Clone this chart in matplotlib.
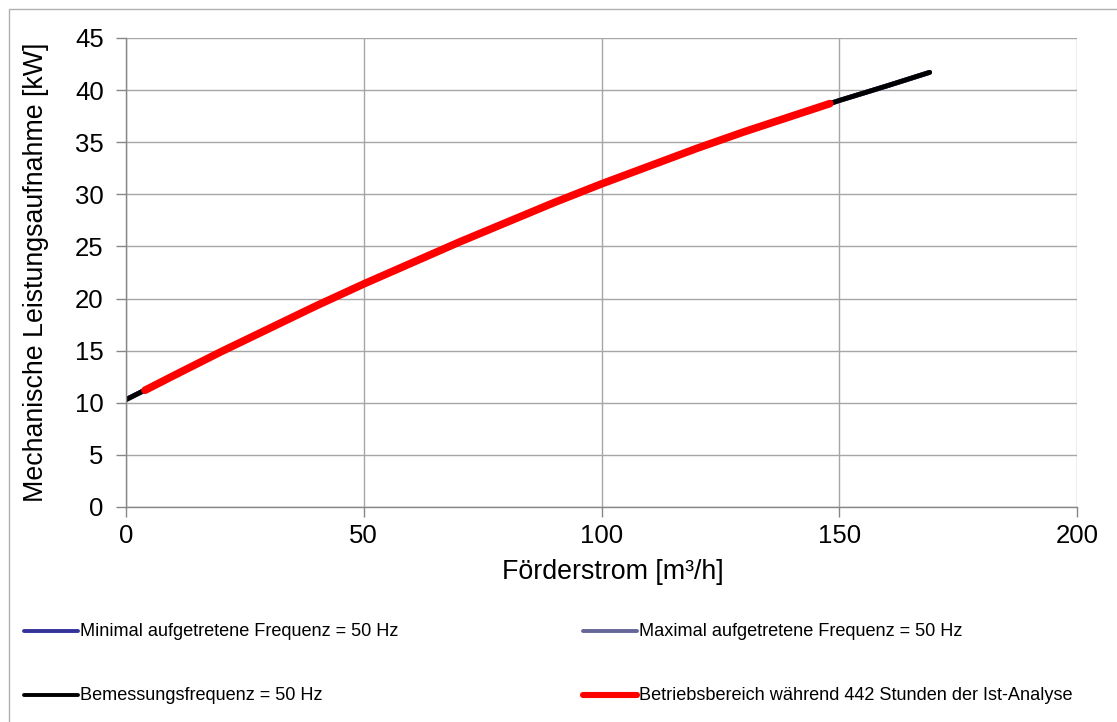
import matplotlib
matplotlib.use("Agg")
import matplotlib.pyplot as plt
from matplotlib.lines import Line2D
from matplotlib.patches import Rectangle

plt.rcParams["font.family"] = ["Liberation Sans", "DejaVu Sans"]

# Kennlinie bei 50 Hz (Förderstrom [m³/h] -> mech. Leistung [kW])
foerderstrom = [0, 10, 20, 30, 40, 50, 60, 70, 80, 90, 100, 110, 120, 130, 140, 150, 160, 169]
leistung = [10.3, 12.6, 14.9, 17.1, 19.3, 21.4, 23.4, 25.4, 27.3, 29.2, 31.0, 32.7, 34.4, 36.0, 37.5, 39.0, 40.4, 41.7]

# Betriebsbereich während der Ist-Analyse
betrieb_q = [4, 10, 20, 30, 40, 50, 60, 70, 80, 90, 100, 110, 120, 130, 140, 148]
betrieb_p = [11.2, 12.6, 14.9, 17.1, 19.3, 21.4, 23.4, 25.4, 27.3, 29.2, 31.0, 32.7, 34.4, 36.0, 37.5, 38.7]

legenden_texte = [
    "Minimal aufgetretene Frequenz = 50 Hz",
    "Maximal aufgetretene Frequenz = 50 Hz",
    "Bemessungsfrequenz = 50 Hz",
    "Betriebsbereich während 442 Stunden der Ist-Analyse",
]
farben = ["#333399", "#666699", "#000000", "#ff0000"]
breiten = [3.5, 3.5, 3.5, 5.5]

fig = plt.figure(figsize=(11.17, 7.22), dpi=100)
ax = fig.add_axes([0.1128, 0.2978, 0.8514, 0.6496])

ax.plot(foerderstrom, leistung, color=farben[0], linewidth=breiten[0], solid_capstyle="round")
ax.plot(foerderstrom, leistung, color=farben[1], linewidth=breiten[1], solid_capstyle="round")
ax.plot(foerderstrom, leistung, color=farben[2], linewidth=breiten[2], solid_capstyle="round")
ax.plot(betrieb_q, betrieb_p, color=farben[3], linewidth=breiten[3], solid_capstyle="round")

ax.set_xlim(0, 200)
ax.set_ylim(0, 45)
ax.set_xticks([0, 50, 100, 150, 200])
ax.set_yticks(range(0, 46, 5))
ax.grid(True, color="#a6a6a6", linewidth=1)
ax.set_axisbelow(True)
for s in ["top", "right"]:
    ax.spines[s].set_visible(False)
for s in ["left", "bottom"]:
    ax.spines[s].set_color("#868686")
    ax.spines[s].set_linewidth(1)
ax.tick_params(axis="both", direction="out", length=7, width=1, color="#868686",
               labelsize=18.5)
ax.tick_params(axis="y", pad=9)
ax.tick_params(axis="x", pad=5)
ax.set_xlabel("Förderstrom [m³/h]", fontsize=19.3, labelpad=8)
ax.xaxis.label.set_x(0.5 + 11 / 951)
ax.set_ylabel("Mechanische Leistungsaufnahme [kW]", fontsize=19.3, labelpad=19)

# Rahmen des Diagrammbereichs
fig.add_artist(Rectangle((9 / 1117, -0.1), 1.2, (722 - 9) / 722 + 0.1, transform=fig.transFigure,
                         fill=False, edgecolor="#b0b0b0", linewidth=1))

# Legende (manuell, 2 Spalten)
pos = [(24, 631), (583, 631), (24, 695), (583, 695)]
for (px, py), txt, f, b in zip(pos, legenden_texte, farben, breiten):
    y = 1 - py / 722
    fig.add_artist(Line2D([px / 1117, (px + 54) / 1117], [y, y], transform=fig.transFigure,
                          color=f, linewidth=b * 0.8, solid_capstyle="round"))
    fig.text((px + 56) / 1117, y, txt, fontsize=13.1, va="center", ha="left")

fig.savefig("out.png", dpi=100)
